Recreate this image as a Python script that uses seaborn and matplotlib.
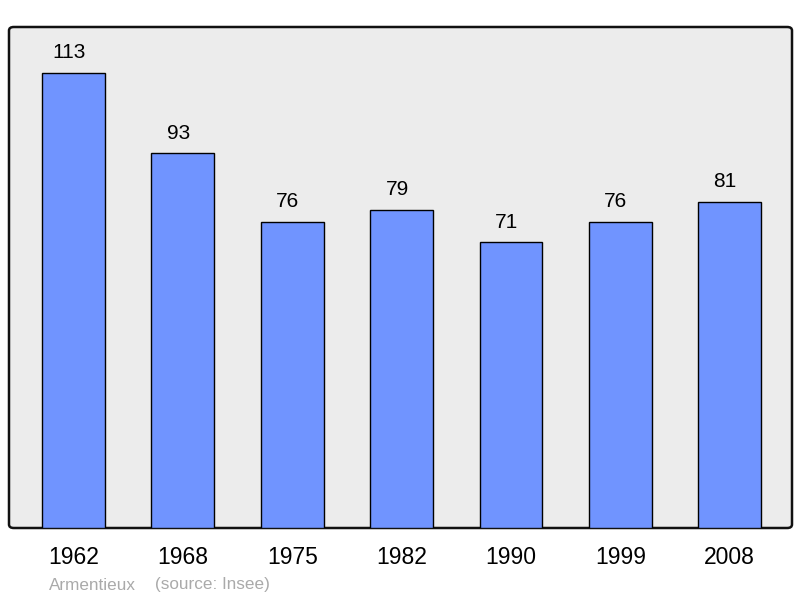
import matplotlib
matplotlib.use("Agg")
import matplotlib.pyplot as plt
import pandas as pd
import seaborn as sns
from matplotlib.patches import FancyBboxPatch

years = ["1962", "1968", "1975", "1982", "1990", "1999", "2008"]
population = [113, 93, 76, 79, 71, 76, 81]
commune = "Armentieux"
source = "(source: Insee)"

BAR_COLOR = "#7094ff"
BG_COLOR = "#ececec"

sns.set_theme(style="white")
plt.rcParams["font.family"] = ["Liberation Sans", "DejaVu Sans"]

df = pd.DataFrame({"year": years, "pop": population})

fig = plt.figure(figsize=(8.0, 5.98), dpi=100)
ax = fig.add_axes([9 / 800, 70 / 598, 783 / 800, 501 / 598])
ax.set_facecolor("none")
ax.set_zorder(1)

# rounded grey frame behind the axes
frame = FancyBboxPatch((9 / 800, 70 / 598), 783 / 800, 501 / 598,
                       boxstyle="round,pad=0,rounding_size=0.006",
                       transform=fig.transFigure, facecolor=BG_COLOR,
                       edgecolor="#111111", linewidth=1.8, zorder=0)
fig.patches.append(frame)

sns.barplot(data=df, x="year", y="pop", color=BAR_COLOR, width=0.575,
            edgecolor="black", linewidth=1.0, saturation=1, ax=ax)

ax.set_xlim(-0.59, 6.57)
ax.set_ylim(0, 124.4)
for s in ax.spines.values():
    s.set_visible(False)
ax.set_xlabel("")
ax.set_ylabel("")
ax.set_yticks([])
ax.tick_params(axis="x", length=0, pad=13, labelsize=16.5, colors="black")

for i, v in enumerate(population):
    ax.annotate(str(v), (i, v), xytext=(-3.2, 14.4), textcoords="offset points",
                ha="center", va="center", fontsize=15, color="black")

fig.text(49 / 800, 1 - 585 / 598, commune, ha="left", va="center",
         fontsize=12.3, color="#aaaaaa")
fig.text(155 / 800, 1 - 585 / 598, source, ha="left", va="center",
         fontsize=12.3, color="#aaaaaa")

fig.savefig("out.png", dpi=100)
